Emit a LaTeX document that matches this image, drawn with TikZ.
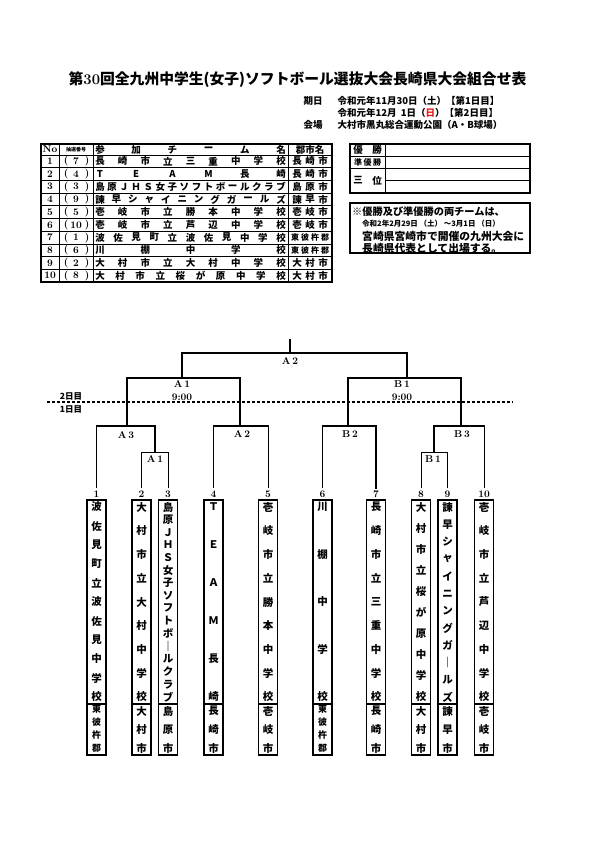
\documentclass[tikz,border=0pt]{standalone}
\usepackage{fontspec}
\usepackage{xcolor}
\usetikzlibrary{positioning}
\newfontfamily\jp{Noto Sans CJK JP}
\definecolor{Sun}{HTML}{E0201C}

\tikzset{
  tch/.style={font=\jp\bfseries\fontsize{9.5}{10}\selectfont, inner sep=0pt},
  tcs/.style={font=\jp\bfseries\fontsize{8}{8}\selectfont, inner sep=0pt},
  jch/.style={font=\jp\bfseries\fontsize{10.5}{10}\selectfont, inner sep=0pt},
  jcs/.style={font=\jp\bfseries\fontsize{9}{9}\selectfont, inner sep=0pt},
  lab/.style={font=\bfseries\fontsize{10}{10}\selectfont, inner sep=0pt},
  frame/.style={line width=1.6pt},
  thin/.style={line width=0.7pt, line cap=rect},
  heavy/.style={line width=1.4pt, line cap=rect},
}

% characters spread evenly along a row / down a column
\newcommand\spreadx[6][tch]{\foreach \ch [count=\i] in {#6} {\node[#1] at ({#3+(\i-1)*(#4-#3)/(#5-1)},#2) {\ch};}}
\newcommand\spready[6][jch]{\foreach \ch [count=\i] in {#6} {\node[#1] at (#2,{#3+(\i-1)*(#4-#3)/(#5-1)}) {\ch};}}

\begin{document}
\begin{tikzpicture}[x=1pt,y=-1pt]
  \fill[white] (0,0) rectangle (595,842);
  \useasboundingbox (0,0) rectangle (595,842);

  % heading
  \node[font=\jp\bfseries\fontsize{14.8}{15}\selectfont] (title) at (297.5,80) {第{\rmfamily 30}回全九州中学生(女子)ソフトボール選抜大会長崎県大会組合せ表};
  \node[anchor=west, font=\jp\bfseries\fontsize{9.5}{10}\selectfont] (kijitsu) at (300,101) {期日};
  \node[anchor=west, font=\jp\bfseries\fontsize{9.5}{10}\selectfont] (day1) at (334,101) {令和元年11月30日（土）【第1日目】};
  \node[anchor=west, font=\jp\bfseries\fontsize{9.5}{10}\selectfont] (day2) at (334,113) {令和元年12月\ \ 1日（{\color{Sun}日}）【第2日目】};
  \node[anchor=west, font=\jp\bfseries\fontsize{9.5}{10}\selectfont] (kaijo) at (300,125) {会場};
  \node[anchor=west, font=\jp\bfseries\fontsize{9.5}{10}\selectfont] (venue) at (334,125) {大村市黒丸総合運動公園（A・B球場）};

  % entry table
  \draw[frame] (41,144) rectangle (332,282);
  \foreach \x in {59,93,288} \draw[thin] (\x,144) -- (\x,282);
  \foreach \k in {0,...,9} \draw[thin] (41,{155+12.7*\k}) -- (332,{155+12.7*\k});
  \node[lab] (hno) at (50,149.5) {No};
  \node[font=\jp\bfseries\fontsize{5}{5}\selectfont, inner sep=0pt] (hdraw) at (76,149.5) {抽選番号};
  \spreadx{149.5}{100}{281}{6}{参,加,チ,ー,ム,名}
  \node[tch] (hcity) at (310,149.5) {郡市名};
  \foreach \n/\d in {1/7,2/4,3/3,4/9,5/5,6/10,7/1,8/6,9/2,10/8} {
    \node[lab] (no\n) at (50,{155+12.7*(\n-0.5)}) {\n};
    \node[lab] (lp\n) at (66,{155+12.7*(\n-0.5)}) {(};
    \node[lab] (dr\n) at (76,{155+12.7*(\n-0.5)}) {\d};
    \node[lab] (rp\n) at (87,{155+12.7*(\n-0.5)}) {)};
  }
  \spreadx{161.35}{100}{281}{9}{長,崎,市,立,三,重,中,学,校}
  \spreadx{174.05}{100}{281}{6}{T,E,A,M,長,崎}
  \spreadx{186.75}{100}{281}{16}{島,原,Ｊ,Ｈ,Ｓ,女,子,ソ,フ,ト,ボ,ー,ル,ク,ラ,ブ}
  \spreadx{199.45}{100}{281}{12}{諫,早,シ,ャ,イ,ニ,ン,グ,ガ,ー,ル,ズ}
  \spreadx{212.15}{100}{281}{9}{壱,岐,市,立,勝,本,中,学,校}
  \spreadx{224.85}{100}{281}{9}{壱,岐,市,立,芦,辺,中,学,校}
  \spreadx{237.55}{100}{281}{11}{波,佐,見,町,立,波,佐,見,中,学,校}
  \spreadx{250.25}{100}{281}{5}{川,棚,中,学,校}
  \spreadx{262.95}{100}{281}{9}{大,村,市,立,大,村,中,学,校}
  \spreadx{275.65}{100}{281}{10}{大,村,市,立,桜,が,原,中,学,校}
  \spreadx{161.35}{297}{323}{3}{長,崎,市}
  \spreadx{174.05}{297}{323}{3}{長,崎,市}
  \spreadx{186.75}{297}{323}{3}{島,原,市}
  \spreadx{199.45}{297}{323}{3}{諫,早,市}
  \spreadx{212.15}{297}{323}{3}{壱,岐,市}
  \spreadx{224.85}{297}{323}{3}{壱,岐,市}
  \spreadx[tcs]{237.55}{295}{325}{4}{東,彼,杵,郡}
  \spreadx[tcs]{250.25}{295}{325}{4}{東,彼,杵,郡}
  \spreadx{262.95}{297}{323}{3}{大,村,市}
  \spreadx{275.65}{297}{323}{3}{大,村,市}

  % results box
  \draw[frame] (350,144) rectangle (530,193);
  \draw[thin] (385,144) -- (385,193);
  \draw[thin] (350,156) -- (530,156);
  \draw[thin] (350,168) -- (530,168);
  \draw[thin] (385,180.5) -- (530,180.5);
  \spreadx{150}{358}{377}{2}{優,勝}
  \spreadx[tcs]{162}{358}{377}{3}{準,優,勝}
  \spreadx{180.5}{358}{377}{2}{三,位}

  % note box
  \draw[frame] (350,203) rectangle (530,253);
  \node[anchor=west, font=\jp\bfseries\fontsize{10.2}{10}\selectfont, inner sep=0pt] (note1) at (352,212) {※優勝及び準優勝の両チームは、};
  \node[anchor=west, font=\jp\bfseries\fontsize{7.5}{8}\selectfont, inner sep=0pt] (note2) at (362,223.5) {令和2年2月29日\ （土）\ ～3月1日\ （日）};
  \node[anchor=west, font=\jp\bfseries\fontsize{10.8}{11}\selectfont, inner sep=0pt] (note3) at (362,236) {宮崎県宮崎市で開催の九州大会に};
  \node[anchor=west, font=\jp\bfseries\fontsize{10.8}{11}\selectfont, inner sep=0pt] (note4) at (362,248.5) {長崎県代表として出場する。};

  % team boxes
  \foreach \k/\x in {1/96.5,2/141.5,3/168,4/213.5,5/268,6/322.5,7/376,8/421,9/447.5,10/484} {
    \draw[frame] (\x-9.5,500) rectangle (\x+9.5,755);
    \draw[frame] (\x-9.5,704) -- (\x+9.5,704);
    \node[lab] (n\k) at (\x,494) {\k};
    \coordinate (t\k) at (\x,488);
  }
  \spready{96.5}{507}{697}{11}{波,佐,見,町,立,波,佐,見,中,学,校}
  \spready{141.5}{507}{697}{9}{大,村,市,立,大,村,中,学,校}
  \spready{168}{507}{697}{16}{島,原,Ｊ,Ｈ,Ｓ,女,子,ソ,フ,ト,ボ,｜,ル,ク,ラ,ブ}
  \spready{213.5}{507}{697}{6}{Ｔ,Ｅ,Ａ,Ｍ,長,崎}
  \spready{268}{507}{697}{9}{壱,岐,市,立,勝,本,中,学,校}
  \spready{322.5}{507}{697}{5}{川,棚,中,学,校}
  \spready{376}{507}{697}{9}{長,崎,市,立,三,重,中,学,校}
  \spready{421}{507}{697}{10}{大,村,市,立,桜,が,原,中,学,校}
  \spready{447.5}{507}{697}{12}{諫,早,シ,ャ,イ,ニ,ン,グ,ガ,｜,ル,ズ}
  \spready{484}{507}{697}{9}{壱,岐,市,立,芦,辺,中,学,校}
  \spready[jcs]{96.5}{709}{748}{4}{東,彼,杵,郡}
  \spready{141.5}{711}{748}{3}{大,村,市}
  \spready{168}{711}{748}{3}{島,原,市}
  \spready{213.5}{711}{748}{3}{長,崎,市}
  \spready{268}{711}{748}{3}{壱,岐,市}
  \spready[jcs]{322.5}{709}{748}{4}{東,彼,杵,郡}
  \spready{376}{711}{748}{3}{長,崎,市}
  \spready{421}{711}{748}{3}{大,村,市}
  \spready{447.5}{711}{748}{3}{諫,早,市}
  \spready{484}{711}{748}{3}{壱,岐,市}

  % bracket
  \draw[heavy] (290,340) -- (290,353);
  \draw[heavy] (182,378) -- (182,353) -- (407,353) -- (407,378);
  \draw[heavy] (127,426) -- (127,378) -- (240,378) -- (240,426);
  \draw[heavy] (348,426) -- (348,378) -- (461,378) -- (461,426);
  \draw[heavy] (96.5,426) -- (155,426) -- (155,452);
  \draw[heavy] (213.5,426) -- (268,426);
  \draw[heavy] (322.5,426) -- (376,426);
  \draw[heavy] (484,426) -- (434,426) -- (434,452);
  \draw[thin] (141.5,452) -- (168,452);
  \draw[thin] (421,452) -- (447.5,452);
  \draw[thin] (96.5,426) -- (t1);
  \draw[thin] (141.5,452) -- (t2);
  \draw[thin] (168,452) -- (t3);
  \draw[thin] (213.5,426) -- (t4);
  \draw[thin] (268,426) -- (t5);
  \draw[thin] (322.5,426) -- (t6);
  \draw[heavy] (376,426) -- (t7);
  \draw[thin] (421,452) -- (t8);
  \draw[thin] (447.5,452) -- (t9);
  \draw[thin] (484,426) -- (t10);

  \node[lab] (gA2) at (290,361) {A\,2};
  \node[lab] (gA1) at (182,384) {A\,1};
  \node[lab] (gB1) at (402,384) {B\,1};
  \node[lab] (tA1) at (182,397) {9:00};
  \node[lab] (tB1) at (402,397) {9:00};
  \node[lab] (rA3) at (126,435) {A\,3};
  \node[lab] (rA2) at (242,434) {A\,2};
  \node[lab] (rB2) at (350,434) {B\,2};
  \node[lab] (rB3) at (462,434) {B\,3};
  \node[lab] (fA1) at (155,459) {A\,1};
  \node[lab] (fB1) at (433,459) {B\,1};

  % day split
  \draw[line width=1.1pt, dash pattern=on 3pt off 2pt] (47,402) -- (513,402);
  \node[font=\jp\bfseries\fontsize{8.5}{8}\selectfont, inner sep=0pt] (day2lab) at (71,396.5) {2日目};
  \node[font=\jp\bfseries\fontsize{8.5}{8}\selectfont, inner sep=0pt] (day1lab) at (71,409) {1日目};
\end{tikzpicture}
\end{document}
